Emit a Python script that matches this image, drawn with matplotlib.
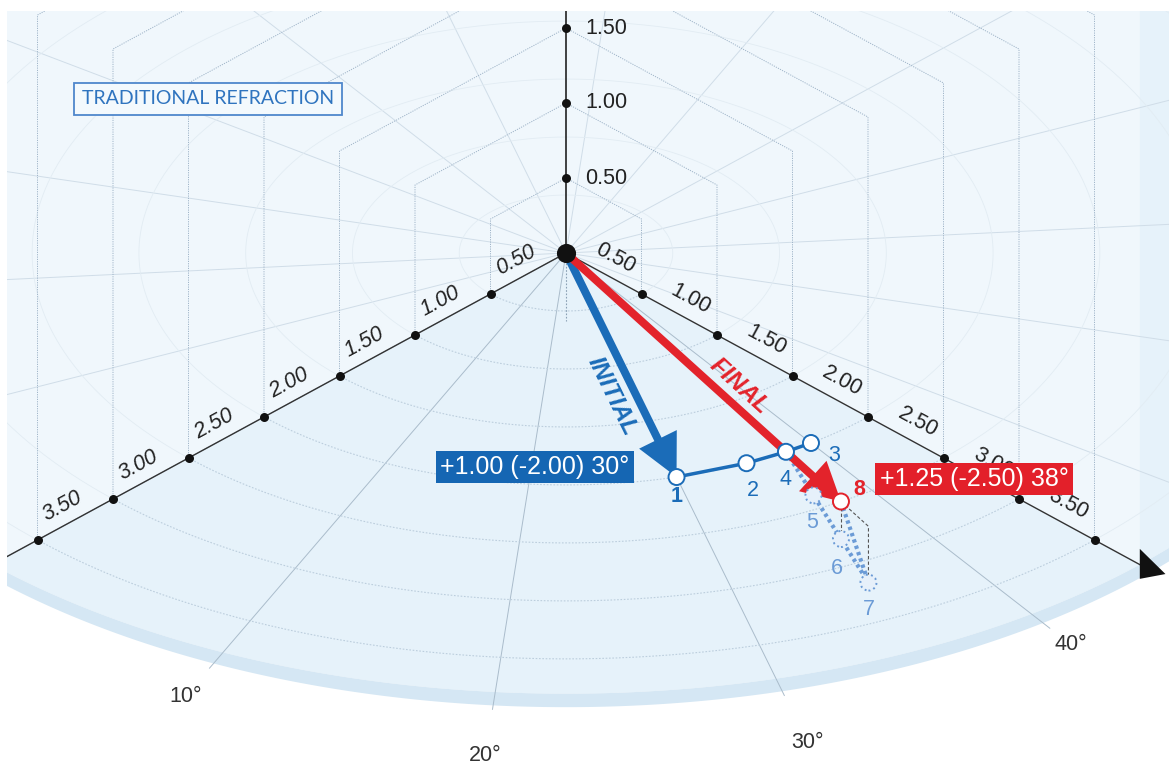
import numpy as np
import matplotlib
matplotlib.use("Agg")
import matplotlib.pyplot as plt
from matplotlib.patches import Circle, Rectangle

# refraction steps: sphere, cylinder and axis of each step
step_labels = ["1", "2", "3", "4", "5", "6", "7", "8"]
sphere = [1.00, 1.00, 1.00, 1.00, 1.00, 1.00, 1.00, 1.25]
cylinder = [-2.00, -2.00, -2.00, -2.00, -2.25, -2.50, -2.75, -2.50]
axis_deg = [30, 35, 40, 38, 38, 38, 38, 38]

cyl_ticks = [0.50, 1.00, 1.50, 2.00, 2.50, 3.00, 3.50]
se_ticks = [0.50, 1.00, 1.50]
angle_ticks = [10, 20, 30, 40]
initial_label = "+1.00 (-2.00) 30°"
final_label = "+1.25 (-2.50) 38°"
title_label = "TRADITIONAL REFRACTION"

BLUE = "#1b6cb8"
RED = "#e3232b"
LIGHT_BLUE = "#6b9bd6"
DARK = "#222222"

# projection: a along the left axis (0 deg), b along the right axis (45 deg), h up
PX = 1 / 151.0
K = 82 / 151.0
H = 150 / 151.0
SLOPE = np.degrees(np.arctan(41 / 75.5))


def proj(a, b, h=0.0):
    a = np.asarray(a, float)
    b = np.asarray(b, float)
    h = np.asarray(h, float)
    return b - a, -K * (a + b) + H * h


def ground(cyl, axis):
    r = np.abs(np.asarray(cyl, float))
    phi = np.radians(2 * np.asarray(axis, float))
    return r * np.cos(phi), r * np.sin(phi)


def off(x, y, dx, dy):
    # shift by pixels (dy positive = down)
    return x + dx * PX, y - dy * PX


plt.rcParams["font.family"] = ["Liberation Sans", "DejaVu Sans"]
fig = plt.figure(figsize=(11.69, 7.65), dpi=100)
ax = fig.add_axes([0, 0, 1, 1])
ax.set_xlim(-566 * PX, 603 * PX)
ax.set_ylim(-512 * PX, 253 * PX)
ax.axis("off")

# ground disk and its rim
R = 3.8
t = np.radians(np.linspace(0, 360, 721))
ax.fill(*proj(R * np.cos(t), R * np.sin(t)), color="#e6f2fa", lw=0, zorder=0)
tf = np.radians(np.linspace(-45, 135, 400))
fx, fy = proj(R * np.cos(tf), R * np.sin(tf))
bx, by = proj(R * np.cos(tf), R * np.sin(tf), -0.09)
ax.fill(np.r_[fx, bx[::-1]], np.r_[fy, by[::-1]], color="#d5e7f4", lw=0, zorder=0)

# the two walls
ax.fill(*proj([0, 4.5, 4.5, 0], [0, 0, 0, 0], [0, 0, 6, 6]), color="#f0f7fc", lw=0, zorder=1)
ax.fill(*proj([0, 0, 0, 0], [0, R, R, 0], [0, 0, 6, 6]), color="#f0f7fc", lw=0, zorder=1)

# polar grid on the ground
for th in range(0, 180, 10):
    phi = np.radians(2 * th)
    if 2 * th <= 90:
        x, y = proj([0, 3.95 * np.cos(phi)], [0, 3.95 * np.sin(phi)])
        ax.plot(x, y, color="#aabccb", lw=0.7, zorder=2)
    else:
        x, y = proj([0, 9 * np.cos(phi)], [0, 9 * np.sin(phi)])
        ax.plot(x, y, color="#d0dde8", lw=0.7, zorder=2)

for r in cyl_ticks:
    tb = np.radians(np.linspace(90, 360, 400))
    ax.plot(*proj(r * np.cos(tb), r * np.sin(tb)), color="#e2ecf3", lw=0.6, zorder=2)
    tq = np.radians(np.linspace(0, 90, 200))
    ax.plot(*proj(r * np.cos(tq), r * np.sin(tq)), color="#bccedd", lw=0.8,
            ls=(0, (1.5, 1.5)), zorder=2)

# wall grids
for c in cyl_ticks:
    ax.plot(*proj([c, c, 0], [0, 0, 0], [0, c, c]), color="#9fb4c8", lw=0.7,
            ls=(0, (1.2, 1.2)), zorder=2)
    ax.plot(*proj([0, 0, 0], [c, c, 0], [0, c, c]), color="#9fb4c8", lw=0.7,
            ls=(0, (1.2, 1.2)), zorder=2)

# axes
ax.plot(*proj([0, 0], [0, 0], [0, 2]), color=DARK, lw=1.2, zorder=3)
ax.plot(*proj([0, 0], [0, 0], [0, -0.45]), color="#8aa0b4", lw=0.8, ls=(0, (1.5, 1.5)), zorder=2)
ax.plot(*proj([0, 4.3], [0, 0]), color="#333333", lw=1.0, zorder=3)
ax.plot(*proj([0, 0], [0, 3.85]), color="#333333", lw=1.0, zorder=3)
ax.fill(*proj([0, 0, 0], [3.8, 3.8, 3.97], [0.105, -0.095, 0.03]), color="#111111", lw=0, zorder=3)

tx, ty = proj(cyl_ticks, np.zeros(len(cyl_ticks)))
ax.scatter(tx, ty, s=42, color="#111111", zorder=4, lw=0)
for c, x, y in zip(cyl_ticks, tx, ty):
    ax.text(*off(x, y, 25, -34), f"{c:.2f}", rotation=SLOPE, ha="center", va="center",
            fontsize=15.5, style="italic", color=DARK, zorder=4)
tx, ty = proj(np.zeros(len(cyl_ticks)), cyl_ticks)
ax.scatter(tx, ty, s=42, color="#111111", zorder=4, lw=0)
for c, x, y in zip(cyl_ticks, tx, ty):
    ax.text(*off(x, y, -26, -36), f"{c:.2f}", rotation=-SLOPE, ha="center", va="center",
            fontsize=15.5, color=DARK, zorder=4)
tx, ty = proj(np.zeros(len(se_ticks)), np.zeros(len(se_ticks)), se_ticks)
ax.scatter(tx, ty, s=42, color="#111111", zorder=4, lw=0)
for c, x, y in zip(se_ticks, tx, ty):
    ax.text(*off(x, y, 19, 0), f"{c:.2f}", ha="left", va="center", fontsize=15.5,
            color=DARK, zorder=4)

# angle labels
label_radius = [4.22, 4.35, 4.37, 4.12]
for th, rl in zip(angle_ticks, label_radius):
    phi = np.radians(2 * th)
    x, y = proj(rl * np.cos(phi), rl * np.sin(phi))
    ax.text(x, y, f"{th}°", ha="center", va="center", fontsize=15.5, color="#333333")

# step positions
ga, gb = ground(cylinder, axis_deg)
se = np.array(sphere) + np.array(cylinder) / 2
sx, sy = proj(ga, gb, se)
gx, gy = proj(ga, gb)
ox, oy = proj(0, 0)

# initial and final arrows, path of the steps
ax.arrow(ox, oy, sx[0] - ox, sy[0] - oy, width=8 * PX, head_width=42 * PX,
         head_length=42 * PX, length_includes_head=True, color=BLUE, lw=0, zorder=5)
ax.plot([sx[3], sx[4], sx[5], sx[6]], [sy[3], sy[4], sy[5], sy[6]], color=LIGHT_BLUE,
        lw=3, ls=(0, (0.8, 0.8)), zorder=5)
ax.plot([sx[7], sx[6]], [sy[7], sy[6]], color=LIGHT_BLUE, lw=3, ls=(0, (0.8, 0.8)), zorder=5)
ax.plot([sx[7], sx[5]], [sy[7], sy[5]], color="#555555", lw=0.8, ls=(0, (3, 2)), zorder=5)
ax.plot([sx[7], gx[6], sx[6]], [sy[7], gy[6], sy[6]], color="#555555", lw=0.8,
        ls=(0, (3, 2)), zorder=5)
ax.arrow(ox, oy, sx[7] - ox, sy[7] - oy, width=8 * PX, head_width=41 * PX,
         head_length=38 * PX, length_includes_head=True, color=RED, lw=0, zorder=6)
ax.plot([sx[0], sx[1], sx[3], sx[2]], [sy[0], sy[1], sy[3], sy[2]], color=BLUE, lw=2.5,
        zorder=7)

ax.scatter([ox], [oy], s=190, color="#111111", zorder=9, lw=0)

label_offsets = [(0, 19), (6, 27), (23, 13), (0, 28), (-1, 27), (-4, 29), (0, 27), (18, -12)]
for i, lab in enumerate(step_labels):
    if i == 7:
        ec, fc, ls, col, fw = RED, "white", "-", RED, "bold"
    elif i >= 4:
        ec, fc, ls, col, fw = LIGHT_BLUE, "#e6f0fa", ":", LIGHT_BLUE, "normal"
    else:
        ec, fc, ls, col, fw = BLUE, "white", "-", BLUE, "bold" if i == 0 else "normal"
    ax.add_patch(Circle((sx[i], sy[i]), 8 * PX, fc=fc, ec=ec, lw=1.4, ls=ls, zorder=8))
    ax.text(*off(sx[i], sy[i], *label_offsets[i]), lab, ha="center", va="center",
            fontsize=15.5, color=col, fontweight=fw, zorder=8)

# arrow names
ax.text(*off(ox, oy, 46, 143), "INITIAL", rotation=-63.8, ha="center", va="center",
        fontsize=17.5, fontweight="bold", style="italic", color=BLUE, zorder=8)
ax.text(*off(ox, oy, 173, 133), "FINAL", rotation=-42.3, ha="center", va="center",
        fontsize=17.5, fontweight="bold", style="italic", color=RED, zorder=8)

# result boxes
ax.text(*off(ox, oy, -31, 214), initial_label, ha="center", va="center", fontsize=18,
        color="white", zorder=10,
        bbox=dict(boxstyle="square,pad=0.17", fc="#1566b3", ec="none"))
ax.text(*off(ox, oy, 408, 226), final_label, ha="center", va="center", fontsize=18,
        color="white", zorder=10,
        bbox=dict(boxstyle="square,pad=0.17", fc="#e3202a", ec="none"))

ax.text(*off(ox, oy, -358, -154), title_label, ha="center", va="center", fontsize=14,
        family=["Lato", "DejaVu Sans"], color="#2f74bf", zorder=10,
        bbox=dict(boxstyle="square,pad=0.4", fc="#f3f9fd", ec="#4f87cc", lw=1.3))

# white margins of the picture
ax.add_patch(Rectangle((-600 * PX, -600 * PX), 41 * PX, 900 * PX, fc="white", ec="none", zorder=20))
ax.add_patch(Rectangle((-600 * PX, 242 * PX), 1300 * PX, 50 * PX, fc="white", ec="none", zorder=20))

fig.savefig("out.png", dpi=100, facecolor="white")
